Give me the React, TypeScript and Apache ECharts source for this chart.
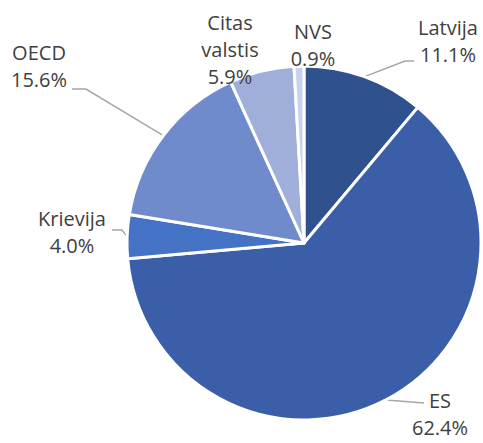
import React, { useEffect, useRef } from "react";
import * as echarts from "echarts";

const categories = ["Latvija", "ES", "Krievija", "OECD", "Citas valstis", "NVS"];
const shares = [11.1, 62.4, 4.0, 15.6, 5.9, 0.9];
const colors = ["#2F528F", "#3A5EA7", "#4472C4", "#6F8BCB", "#A0AFD9", "#C9D2EC"];

// label anchor (center of text block) and leader elbow per slice
const labelPos: { x: number; y: number; elbow?: [number, number][]; line: boolean }[] = [
  { x: 448, y: 41, elbow: [[405, 61], [414, 61]], line: true },
  { x: 440, y: 414, elbow: [[424, 403]], line: true },
  { x: 72, y: 232, elbow: [[122, 230], [112, 230]], line: true },
  { x: 39, y: 66, elbow: [[86, 89], [72, 89]], line: true },
  { x: 230, y: 49, line: false },
  { x: 313, y: 45, line: false },
];

export default function App() {
  const ref = useRef<HTMLDivElement>(null);
  useEffect(() => {
    if (!ref.current) return;
    const chart = echarts.init(ref.current, undefined, { renderer: "svg" });
    chart.setOption({
      animation: false,
      backgroundColor: "#ffffff",
      series: [
        {
          type: "pie",
          center: [304, 243],
          radius: [0, 177],
          startAngle: 90,
          clockwise: true,
          avoidLabelOverlap: false,
          data: categories.map((name, i) => ({
            name,
            value: shares[i],
            itemStyle: { color: colors[i] },
            labelLine: { show: labelPos[i].line },
          })),
          itemStyle: { borderColor: "#ffffff", borderWidth: 3 },
          label: {
            show: true,
            position: "outside",
            color: "#404040",
            fontSize: 20,
            lineHeight: 27,
            fontFamily: "Open Sans",
            formatter: (p: any) => `${p.name.replace(" ", "\n")}\n${p.value.toFixed(1)}%`,
          },
          labelLine: {
            show: true,
            lineStyle: { color: "#A6A6A6", width: 1.5 },
          },
          labelLayout: (p: any) => {
            const lp = labelPos[p.dataIndex];
            const res: any = { x: lp.x, y: lp.y, align: "center", verticalAlign: "middle" };
            if (lp.line && p.labelLinePoints) {
              res.labelLinePoints = [p.labelLinePoints[0], ...(lp.elbow || [])];
            }
            return res;
          },
        },
      ],
    });
    return () => chart.dispose();
  }, []);
  return (
    <div
      ref={ref}
      style={{ position: "fixed", left: 0, top: 0, width: 483, height: 443 }}
    />
  );
}
